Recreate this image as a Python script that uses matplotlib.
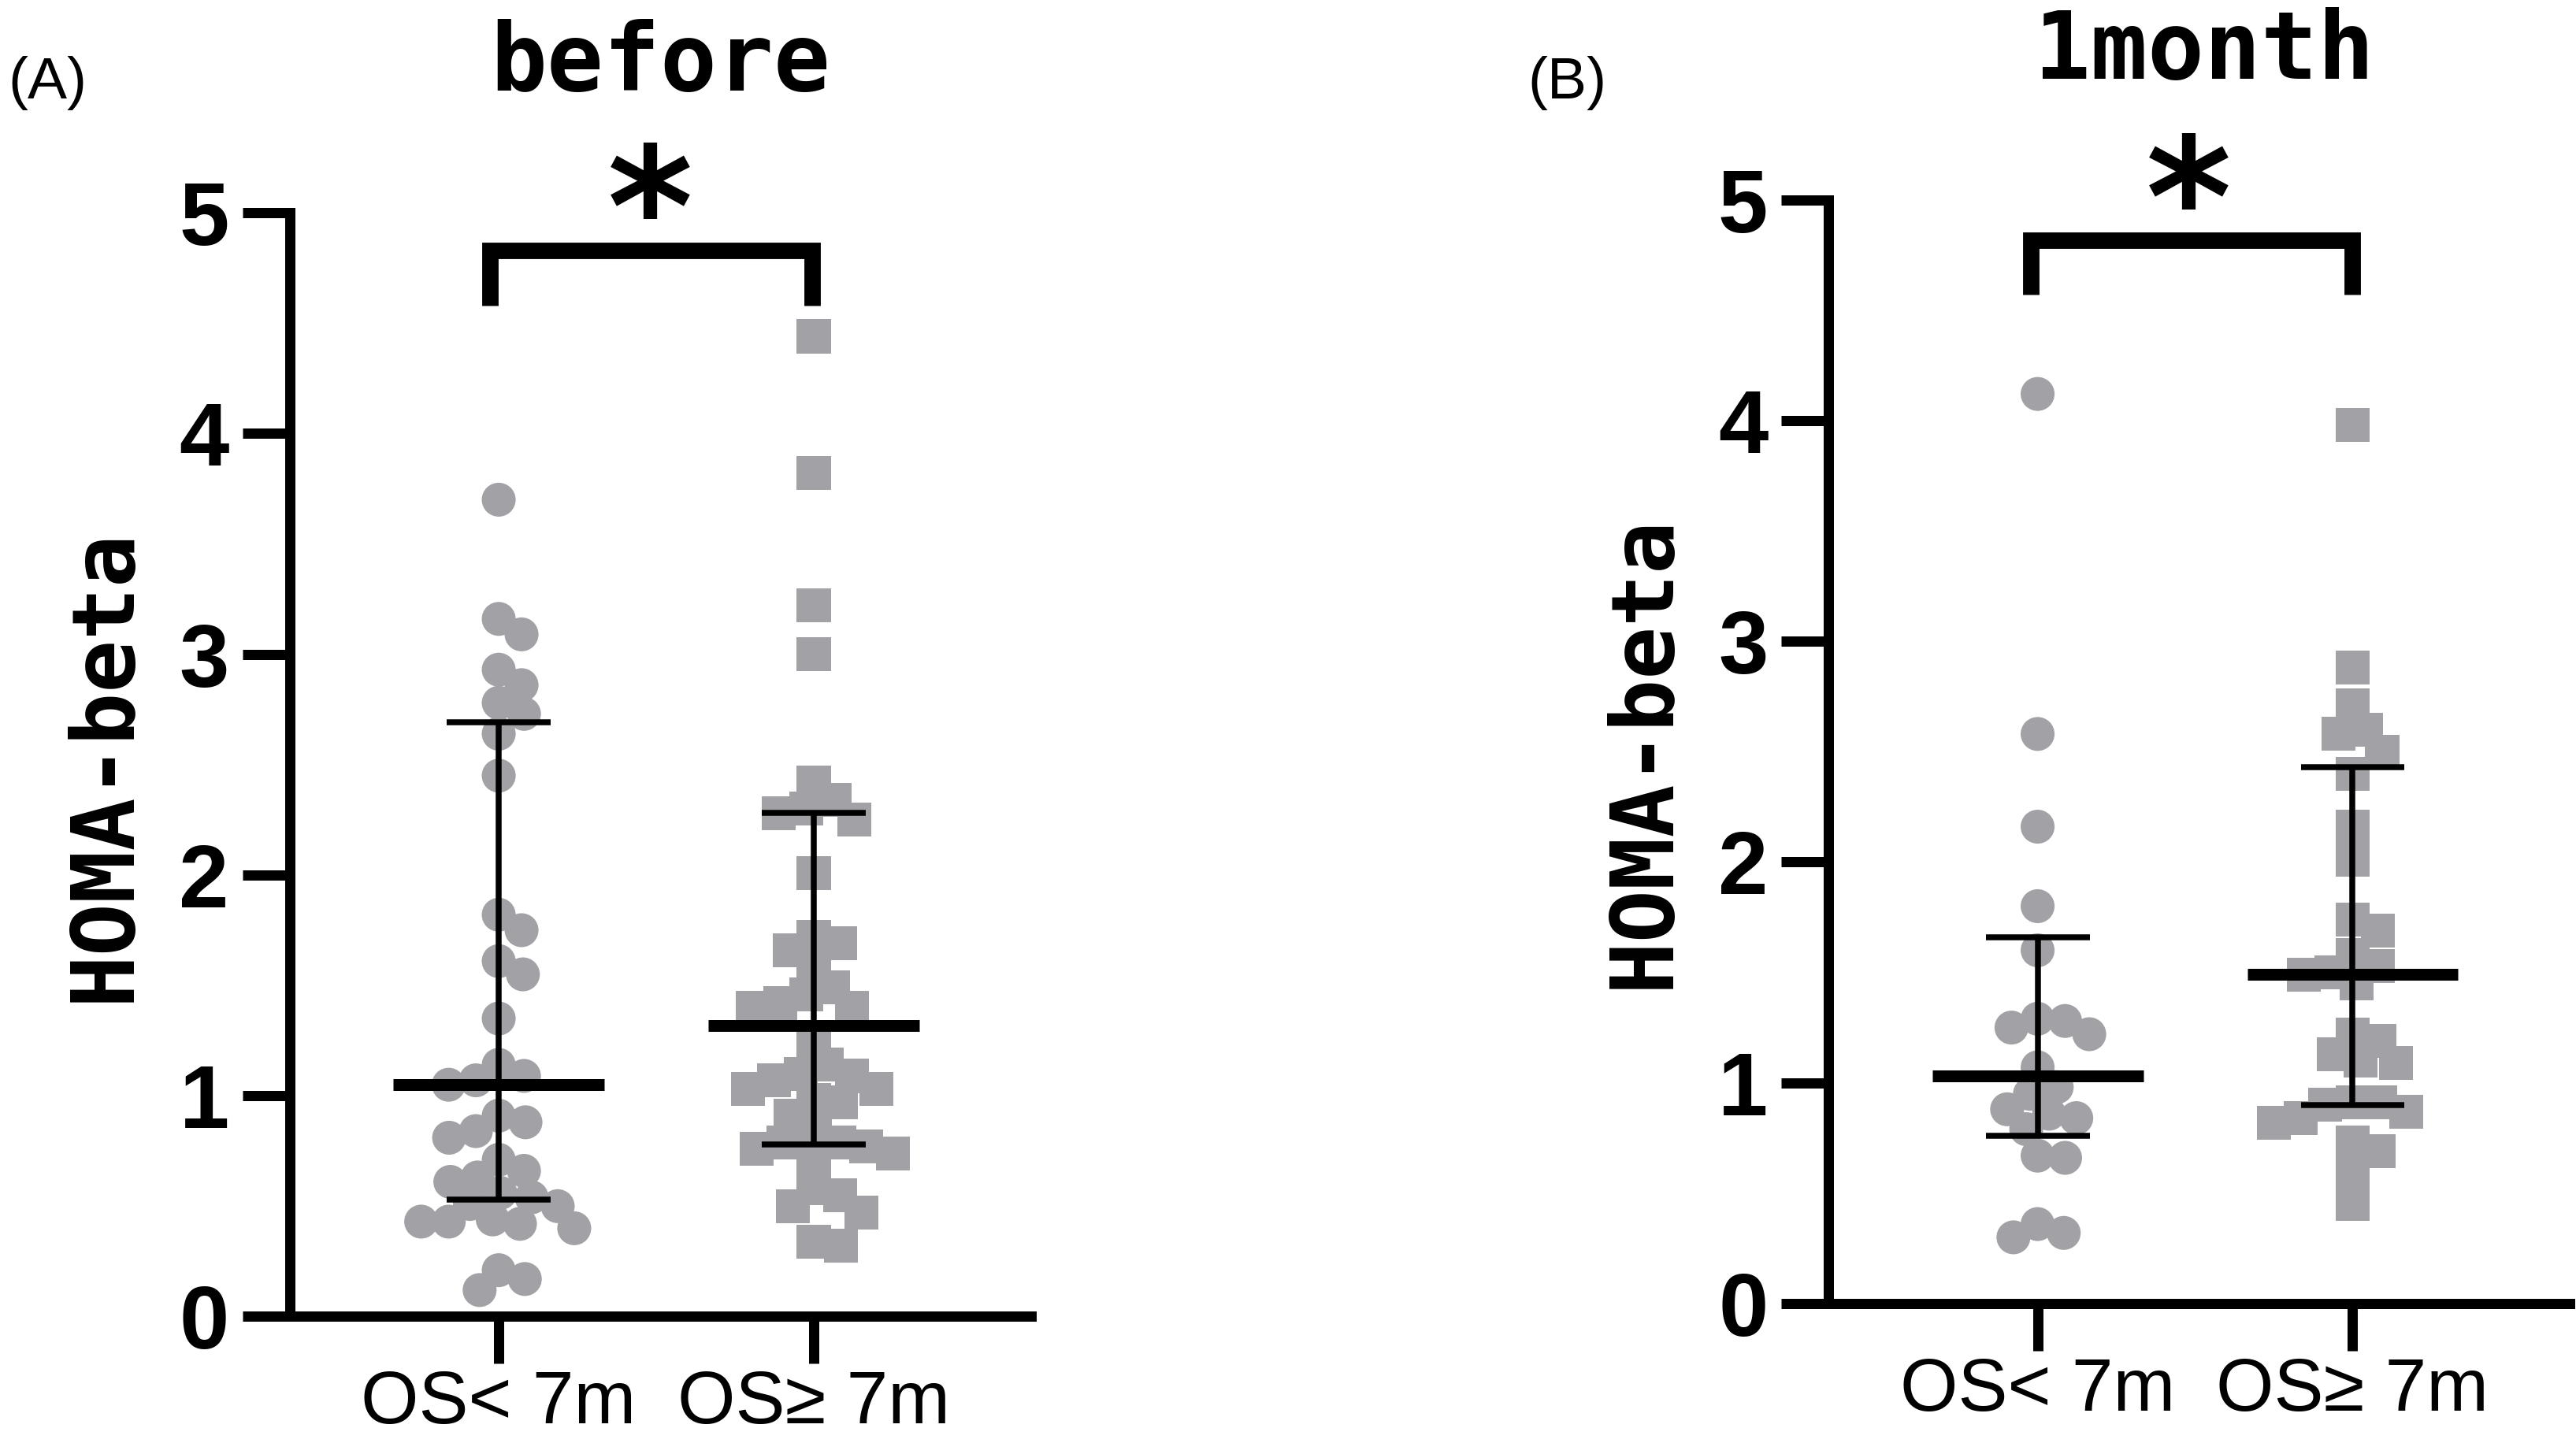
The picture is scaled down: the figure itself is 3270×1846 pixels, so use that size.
#HOMA-beta scatter dot plots, OS<7m vs OS>=7m, before treatment and after 1 month
import matplotlib
matplotlib.use("Agg")
import matplotlib.pyplot as plt
import numpy as np

groups = ["OS< 7m", "OS≥ 7m"]
panel_titles = ["before", "1month"]
panel_letters = ["(A)", "(B)"]
ylabel = "HOMA-beta"
yticks = [0, 1, 2, 3, 4, 5]
sig_label = "*"

# values
before_lt7 = [3.70, 3.16, 3.09, 2.93, 2.86, 2.78, 2.73, 2.64, 2.45, 1.82, 1.75, 1.61, 1.55,
              1.35, 1.14, 1.09, 1.05, 1.07, 0.91, 0.88, 0.84, 0.81, 0.71, 0.66, 0.63, 0.56,
              0.61, 0.54, 0.51, 0.50, 0.43, 0.42, 0.40, 0.44, 0.43, 0.21, 0.17, 0.12]
before_ge7 = [4.44, 3.82, 3.22, 3.00, 2.42, 2.34, 2.28, 2.30, 2.25, 2.01, 1.72, 1.69, 1.66,
              1.58, 1.49, 1.46, 1.42, 1.40, 1.40, 1.25, 1.09, 1.14, 1.10, 1.07, 1.03, 1.03,
              0.98, 0.97, 0.91, 0.85, 0.77, 0.79, 0.76, 0.79, 0.74, 0.71, 0.58, 0.55, 0.47,
              0.50, 0.34, 0.32]
month1_lt7 = [4.12, 2.58, 2.16, 1.80, 1.60, 1.25, 1.29, 1.28, 1.22, 1.07, 0.98, 0.95, 0.86,
              0.84, 0.88, 0.79, 0.66, 0.67, 0.36, 0.30, 0.32]
month1_ge7 = [3.98, 2.88, 2.71, 2.60, 2.58, 2.50, 2.40, 2.16, 2.01, 1.74, 1.69, 1.58, 1.53,
              1.50, 1.49, 1.45, 1.22, 1.19, 1.10, 1.13, 1.09, 0.91, 0.91, 0.90, 0.87, 0.82,
              0.84, 0.69, 0.73, 0.58, 0.45]

# median and interquartile range as drawn (median, q1, q3)
before_summary = [(1.05, 0.53, 2.69), (1.32, 0.78, 2.28)]
month1_summary = [(1.03, 0.76, 1.66), (1.49, 0.90, 2.43)]

# significance brackets: (left, right, leg bottom, top)
before_bracket = (-0.028, 0.995, 4.58, 4.83)
month1_bracket = (-0.022, 1.0, 4.57, 4.815)

GRAY = "#A2A2A6"
W, H = 3270, 1846
XLIM = (-0.664, 1.69)
AX_W, AX_H = 0.2879, 0.7592
SANS = ["Liberation Sans", "DejaVu Sans"]
MONO = ["DejaVu Sans Mono", "DejaVu Sans"]

px_x = AX_W * W / (XLIM[1] - XLIM[0])
px_y = AX_H * H / 5.0


def swarm(values, gap=35.0):
    # simple beeswarm in pixel space, points may overlap a little like the original
    ys = np.asarray(values) * px_y
    xs = np.zeros(len(ys))
    placed = []
    for i in np.argsort(ys)[::-1]:
        cands = [0.0]
        for j in placed:
            dy = ys[i] - ys[j]
            if abs(dy) < gap:
                dx = np.sqrt(gap ** 2 - dy ** 2)
                cands += [xs[j] + dx, xs[j] - dx]
        cands.sort(key=abs)
        for c in cands:
            ok = True
            for j in placed:
                if (c - xs[j]) ** 2 + (ys[i] - ys[j]) ** 2 < gap ** 2 - 1e-6:
                    ok = False
                    break
            if ok:
                xs[i] = c
                break
        placed.append(i)
    return xs / px_x


def panel(ax, data, summary, bracket):
    markers = ["o", "s"]
    for k in range(2):
        off = swarm(data[k])
        ax.scatter(k + off, data[k], s=31 ** 2, marker=markers[k], color=GRAY,
                   edgecolors="none", zorder=2, clip_on=False)
        med, q1, q3 = summary[k]
        ax.hlines(med, k - 0.335, k + 0.335, color="black", lw=10.8, zorder=3)
        ax.vlines(k, q1, q3, color="black", lw=5.4, zorder=3)
        ax.hlines([q1, q3], k - 0.165, k + 0.165, color="black", lw=5.4, zorder=3)

    x0, x1, yb, yt = bracket
    ax.plot([x0, x0, x1, x1], [yb, yt, yt, yb], color="black", lw=15,
            solid_joinstyle="miter", solid_capstyle="butt", clip_on=False)
    ax.text(0.48, yt - 0.065, sig_label, ha="center", va="baseline", fontsize=150,
            fontweight="bold", family=["DejaVu Sans"], clip_on=False)

    ax.set_xlim(XLIM)
    ax.set_ylim(0, 5)
    for s in ["top", "right"]:
        ax.spines[s].set_visible(False)
    for s in ["left", "bottom"]:
        ax.spines[s].set_linewidth(9.36)
        ax.spines[s].set_capstyle("projecting")
    ax.set_yticks(yticks)
    ax.set_yticklabels([str(t) for t in yticks], fontsize=82, fontweight="bold",
                       family=SANS)
    ax.set_xticks([0, 1])
    ax.set_xticklabels(groups, fontsize=68, family=SANS)
    ax.tick_params(axis="both", direction="out", length=43.2, width=9.36)
    ax.tick_params(axis="y", pad=12)
    ax.tick_params(axis="x", pad=5)
    ax.text(-0.2485, 0.5, ylabel, transform=ax.transAxes, rotation=90, ha="center",
            va="center", fontsize=80, fontweight="bold", family=MONO)


def main():
    fig = plt.figure(figsize=(W / 100, H / 100), dpi=100)
    axA = fig.add_axes([0.11239, 0.09453, AX_W, AX_H])
    axB = fig.add_axes([0.70979, 0.10347, AX_W, AX_H])

    panel(axA, [before_lt7, before_ge7], before_summary, before_bracket)
    panel(axB, [month1_lt7, month1_ge7], month1_summary, month1_bracket)

    # titles and panel letters
    fig.text(0.2563, (H - 115) / H, panel_titles[0], ha="center", va="baseline",
             fontsize=86, fontweight="bold", family=MONO)
    fig.text(0.8557, (H - 100) / H, panel_titles[1], ha="center", va="baseline",
             fontsize=86, fontweight="bold", family=MONO)
    fig.text(10 / W, (H - 106) / H, panel_letters[0], ha="left", va="center",
             fontsize=54, family=SANS)
    fig.text(1939 / W, (H - 106) / H, panel_letters[1], ha="left", va="center",
             fontsize=54, family=SANS)

    fig.savefig("out.png", dpi=100, facecolor="white")
    plt.close()


main()
